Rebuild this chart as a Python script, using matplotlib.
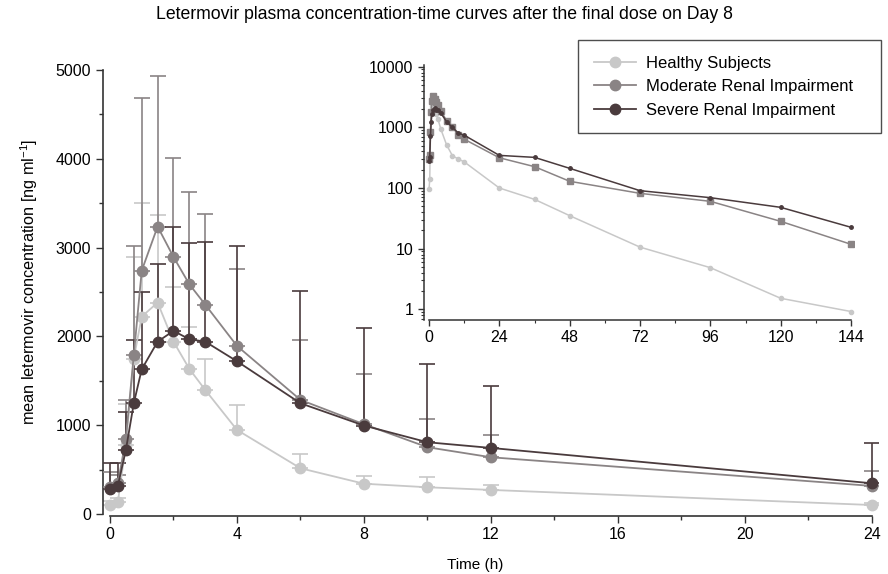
import matplotlib
matplotlib.use("Agg")
import matplotlib.pyplot as plt
from matplotlib.ticker import MultipleLocator, LogLocator, NullFormatter, FixedLocator
import numpy as np

plt.rcParams['font.family'] = ['Liberation Sans', 'DejaVu Sans']
plt.rcParams['mathtext.fontset'] = 'custom'
plt.rcParams['mathtext.rm'] = 'Liberation Sans'
plt.rcParams['mathtext.it'] = 'Liberation Sans:italic'

# time points (h)
time_24 = [0, 0.25, 0.5, 0.75, 1, 1.5, 2, 2.5, 3, 4, 6, 8, 10, 12, 24]
time_late = [36, 48, 72, 96, 120, 144]

# mean concentrations, first 24 h (ng/ml)
healthy = [95, 139, 780, 1750, 2222, 2380, 1940, 1633, 1396, 946, 514, 340, 300, 270, 100]
moderate = [300, 345, 845, 1790, 2740, 3236, 2894, 2586, 2357, 1892, 1284, 1010, 751, 638, 315]
severe = [281, 319, 720, 1246, 1629, 1940, 2061, 1967, 1940, 1719, 1246, 995, 807, 743, 345]

# upper end of error bars (mean + SD)
healthy_upper = [150, 176, 1240, 2890, 3506, 3364, 2560, 2110, 1745, 1231, 676, 430, 410, 330, 120]
moderate_upper = [470, 440, 1280, 3018, 4688, 4936, 4010, 3622, 3378, 2759, 1963, 1577, 1070, 886, 484]
severe_upper = [575, 575, 1150, 1962, 2497, 2815, 3234, 3046, 3059, 3016, 2513, 2091, 1689, 1445, 803]

# later time points for the log-scale inset
healthy_late = [65, 35, 10.6, 4.86, 1.52, 0.92]
moderate_late = [225, 129, 81.7, 60.3, 28.2, 11.8]
severe_late = [320, 211, 90.4, 69.3, 48, 22.5]

labels = ['Healthy Subjects', 'Moderate Renal Impairment', 'Severe Renal Impairment']
colors = ['#c8c8c8', '#8a8485', '#4a3b3d']

fig = plt.figure(figsize=(8.88, 5.74), dpi=100)
ax = fig.add_axes([0.116, 0.1016, 0.873, 0.7843])

groups = [(healthy, healthy_upper), (moderate, moderate_upper), (severe, severe_upper)]
for i, (mean, upper) in enumerate(groups):
    mean = np.array(mean)
    err = np.array(upper) - mean
    ax.errorbar(time_24, mean, yerr=[np.zeros_like(err), err], fmt='none',
                ecolor=colors[i], elinewidth=1.2, capsize=6, capthick=1.2, zorder=2 + i)
    ax.plot(time_24, mean, '-o', color=colors[i], lw=1.3, markersize=7.5,
            label=labels[i], zorder=5 + i)

ax.set_xlim(-0.22, 24.2)
ax.set_ylim(-20, 5050)
ax.spines['top'].set_visible(False)
ax.spines['right'].set_visible(False)
ax.spines['left'].set_bounds(0, 5000)
ax.spines['bottom'].set_bounds(0, 24)
for s in ['left', 'bottom']:
    ax.spines[s].set_color('#333333')
    ax.spines[s].set_linewidth(1.2)
ax.xaxis.set_major_locator(MultipleLocator(4))
ax.xaxis.set_minor_locator(MultipleLocator(2))
ax.yaxis.set_major_locator(MultipleLocator(1000))
ax.yaxis.set_minor_locator(MultipleLocator(500))
ax.tick_params(which='major', length=5, width=1, colors='#333333', labelsize=11.5, labelcolor='black')
ax.tick_params(which='minor', length=3, width=1, colors='#333333')
ax.set_xlabel('Time (h)', fontsize=11)
ax.xaxis.set_label_coords(0.48, -0.094)
ax.set_ylabel('mean letermovir concentration [ng ml$^{-1}$]', fontsize=11.7)
ax.yaxis.set_label_coords(-0.081, 0.52)

fig.text(0.5, 0.975, 'Letermovir plasma concentration-time curves after the final dose on Day 8',
         ha='center', va='center', fontsize=12.7)

# log-scale inset over the full 144 h
inset = fig.add_axes([0.4775, 0.4425, 0.4842, 0.4443])
late = [healthy_late, moderate_late, severe_late]
markers = [('o', 3), ('s', 4), ('o', 2.5)]
for i, (mean, _) in enumerate(groups):
    inset.plot(time_24 + time_late, list(mean) + late[i], '-', marker=markers[i][0],
               markersize=markers[i][1], color=colors[i], lw=1.1, zorder=2 + i)
inset.set_yscale('log')
inset.set_xlim(-1.7, 145)
inset.set_ylim(0.667, 10670)
inset.spines['top'].set_visible(False)
inset.spines['right'].set_visible(False)
inset.spines['bottom'].set_bounds(0, 144)
for s in ['left', 'bottom']:
    inset.spines[s].set_color('#333333')
    inset.spines[s].set_linewidth(1.1)
inset.xaxis.set_major_locator(MultipleLocator(24))
inset.xaxis.set_minor_locator(MultipleLocator(12))
inset.yaxis.set_major_locator(FixedLocator([1, 10, 100, 1000, 10000]))
inset.yaxis.set_minor_locator(LogLocator(base=10, subs=np.arange(2, 10)))
inset.yaxis.set_minor_formatter(NullFormatter())
inset.set_yticklabels(['1', '10', '100', '1000', '10000'])
inset.tick_params(which='major', length=4, width=1, colors='#333333', labelsize=11.5, labelcolor='black')
inset.tick_params(which='minor', length=2, width=0.8, colors='#333333')
inset.patch.set_alpha(0)

leg = ax.legend(loc='upper left', bbox_to_anchor=(0.6129, 0.5, 0.391, 0.5566), mode='expand',
                fontsize=12, frameon=True, fancybox=False, handlelength=2.5, borderpad=0.95,
                labelspacing=0.5, handletextpad=0.6, borderaxespad=0)
leg.get_frame().set_edgecolor('#222222')
leg.get_frame().set_linewidth(1.0)
leg.set_zorder(20)

fig.savefig('out.png', dpi=100)
